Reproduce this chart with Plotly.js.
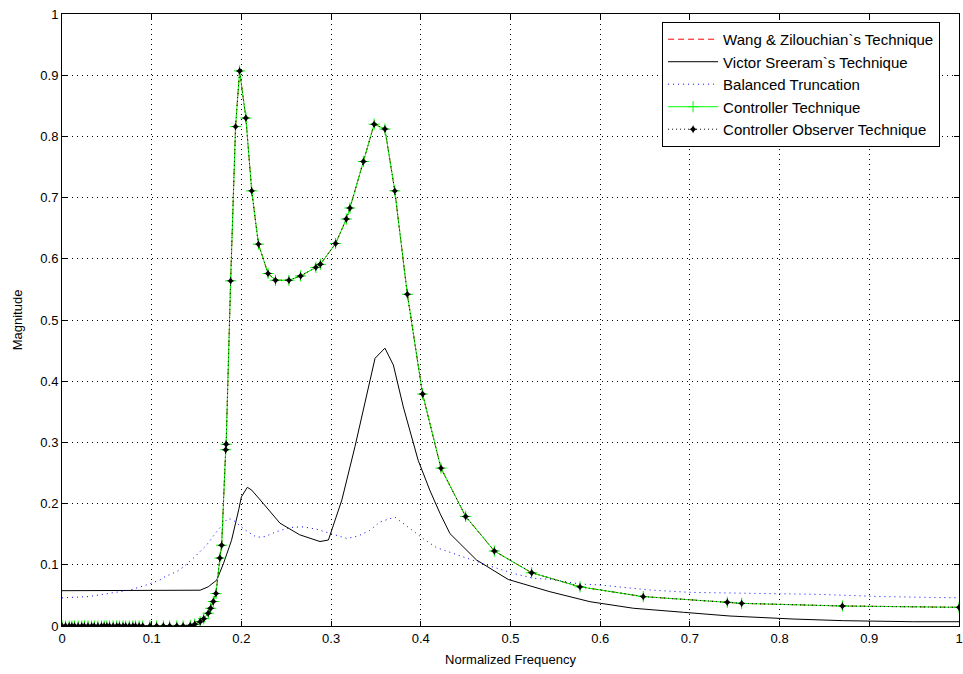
<!DOCTYPE html>
<html>
<head>
<meta charset="utf-8">
<script src="https://cdn.plot.ly/plotly-3.0.1.min.js"></script>
<style>html,body{margin:0;padding:0;background:#fff;}#chart{width:963px;height:674px;}</style>
</head>
<body>
<div id="chart"></div>
<script>
// Controller / Controller Observer / Wang & Zilouchian (coincident curves)
const ctrlX = [0,0.004,0.008,0.011,0.014,0.018,0.022,0.025,0.029,0.033,
  0.036,0.040,0.044,0.047,0.050,0.053,0.057,0.061,0.064,0.068,
  0.071,0.075,0.079,0.082,0.086,0.090,0.098,0.1055,0.113,0.120,
  0.128,0.135,0.143,0.148,0.154,0.158,0.163,0.1657,0.1687,0.1717,
  0.176,0.178,0.1825,0.183,0.188,0.1935,0.198,0.205,0.2115,0.219,
  0.2297,0.238,0.253,0.266,0.283,0.288,0.305,0.317,0.321,0.336,
  0.348,0.360,0.371,0.385,0.402,0.4225,0.450,0.482,0.5236,0.5775,
  0.648,0.7417,0.7577,0.870,1.0];
const ctrlY = [0,0,0,0,0,0,0,0,0,0,
  0,0,0,0,0,0,0,0,0,0,
  0,0,0,0,0,0,0,0,0,0,
  0,0,0.001,0.003,0.007,0.012,0.021,0.029,0.040,0.053,
  0.111,0.132,0.288,0.297,0.564,0.816,0.907,0.830,0.711,0.624,
  0.576,0.565,0.565,0.572,0.586,0.591,0.625,0.665,0.683,0.759,
  0.820,0.812,0.711,0.542,0.379,0.258,0.179,0.1225,0.087,0.064,
  0.048,0.0387,0.037,0.0327,0.0305];

// Victor Sreeram's technique
const vsX = [0,0.05,0.10,0.154,0.163,0.1725,0.18,0.189,0.197,0.2,
  0.2066,0.2115,0.2245,0.243,0.265,0.2876,0.297,0.312,0.3266,0.336,
  0.349,0.360,0.3694,0.3805,0.397,0.410,0.4214,0.4325,0.462,0.4975,
  0.544,0.5886,0.637,0.6927,0.7447,0.815,0.871,0.949,1.0];
const vsY = [0.0577,0.0577,0.0577,0.0585,0.064,0.075,0.102,0.14,0.19,0.211,
  0.2266,0.222,0.2,0.168,0.149,0.138,0.1405,0.206,0.293,0.353,
  0.4375,0.454,0.4265,0.358,0.271,0.222,0.184,0.151,0.108,0.076,
  0.056,0.0397,0.029,0.0224,0.0163,0.0114,0.0087,0.007,0.007];

// Balanced truncation
const btX = [0,0.029,0.046,0.063,0.0758,0.094,0.109,0.1148,0.128,0.135,
  0.148,0.161,0.174,0.185,0.191,0.204,0.217,0.226,0.239,0.254,
  0.269,0.284,0.299,0.3174,0.330,0.343,0.3545,0.3657,0.371,0.39,
  0.4047,0.4177,0.425,0.447,0.4735,0.503,0.5255,0.544,0.5775,0.600,
  0.6555,0.70,0.767,0.841,0.9156,1.0];
const btY = [0.046,0.048,0.0518,0.056,0.0588,0.067,0.075,0.0806,0.089,0.096,
  0.113,0.132,0.157,0.176,0.173,0.157,0.145,0.146,0.154,0.161,
  0.162,0.158,0.151,0.143,0.147,0.156,0.170,0.176,0.178,0.157,
  0.1405,0.128,0.124,0.113,0.0997,0.086,0.078,0.0763,0.0686,0.067,
  0.0588,0.055,0.0534,0.0518,0.048,0.046];

const seriesNames = ["Wang & Zilouchian`s Technique","Victor Sreeram`s Technique","Balanced Truncation","Controller Technique","Controller Observer Technique"];
const xTicks = [0,0.1,0.2,0.3,0.4,0.5,0.6,0.7,0.8,0.9,1];
const yTicks = [0,0.1,0.2,0.3,0.4,0.5,0.6,0.7,0.8,0.9,1];

const traces = [
  {x: ctrlX, y: ctrlY, name: seriesNames[0], mode: 'lines', line: {color: '#ff0000', width: 1, dash: '6px,4px'}},
  {x: vsX, y: vsY, name: seriesNames[1], mode: 'lines', line: {color: '#000000', width: 1}},
  {x: btX, y: btY, name: seriesNames[2], mode: 'lines', line: {color: '#0000ff', width: 1, dash: '1px,4px'}},
  {x: ctrlX, y: ctrlY, name: seriesNames[3], mode: 'lines+markers', line: {color: '#00ff00', width: 1},
   marker: {symbol: 'cross-thin-open', size: 8, line: {color: '#00ff00', width: 1}}},
  {x: ctrlX, y: ctrlY, name: seriesNames[4], mode: 'lines+markers', line: {color: '#000000', width: 1, dash: '1px,3px'},
   marker: {symbol: 'star-diamond', size: 6, color: '#000000'}}
];

const axisCommon = {
  showline: true, linecolor: '#000', linewidth: 1, mirror: 'ticks',
  ticks: 'inside', ticklen: 5, tickcolor: '#000', tickwidth: 1,
  showgrid: true, gridcolor: '#000', gridwidth: 1, griddash: '1px,4px',
  zeroline: false, tickfont: {family: 'Liberation Sans, Arial, sans-serif', size: 13, color: '#000'}
};

const layout = {
  width: 963, height: 674,
  margin: {l: 62, r: 4, t: 14, b: 48},
  paper_bgcolor: '#fff', plot_bgcolor: '#fff',
  font: {family: 'Liberation Sans, Arial, sans-serif', size: 12, color: '#000'},
  showlegend: true,
  xaxis: Object.assign({}, axisCommon, {range: [0, 1], tickvals: xTicks, ticktext: xTicks.map(String),
    title: {text: 'Normalized Frequency', font: {size: 13}, standoff: 10}}),
  yaxis: Object.assign({}, axisCommon, {range: [0, 1], tickvals: yTicks, ticktext: yTicks.map(String),
    title: {text: 'Magnitude', font: {size: 13}, standoff: 14}}),
  legend: {x: 0.669, y: 0.987, xanchor: 'left', yanchor: 'top', bgcolor: '#fff',
    bordercolor: '#000', borderwidth: 1, font: {size: 15}, tracegroupgap: 0, itemwidth: 50}
};

Plotly.newPlot('chart', traces, layout, {displayModeBar: false, staticPlot: true});
</script>
</body>
</html>
